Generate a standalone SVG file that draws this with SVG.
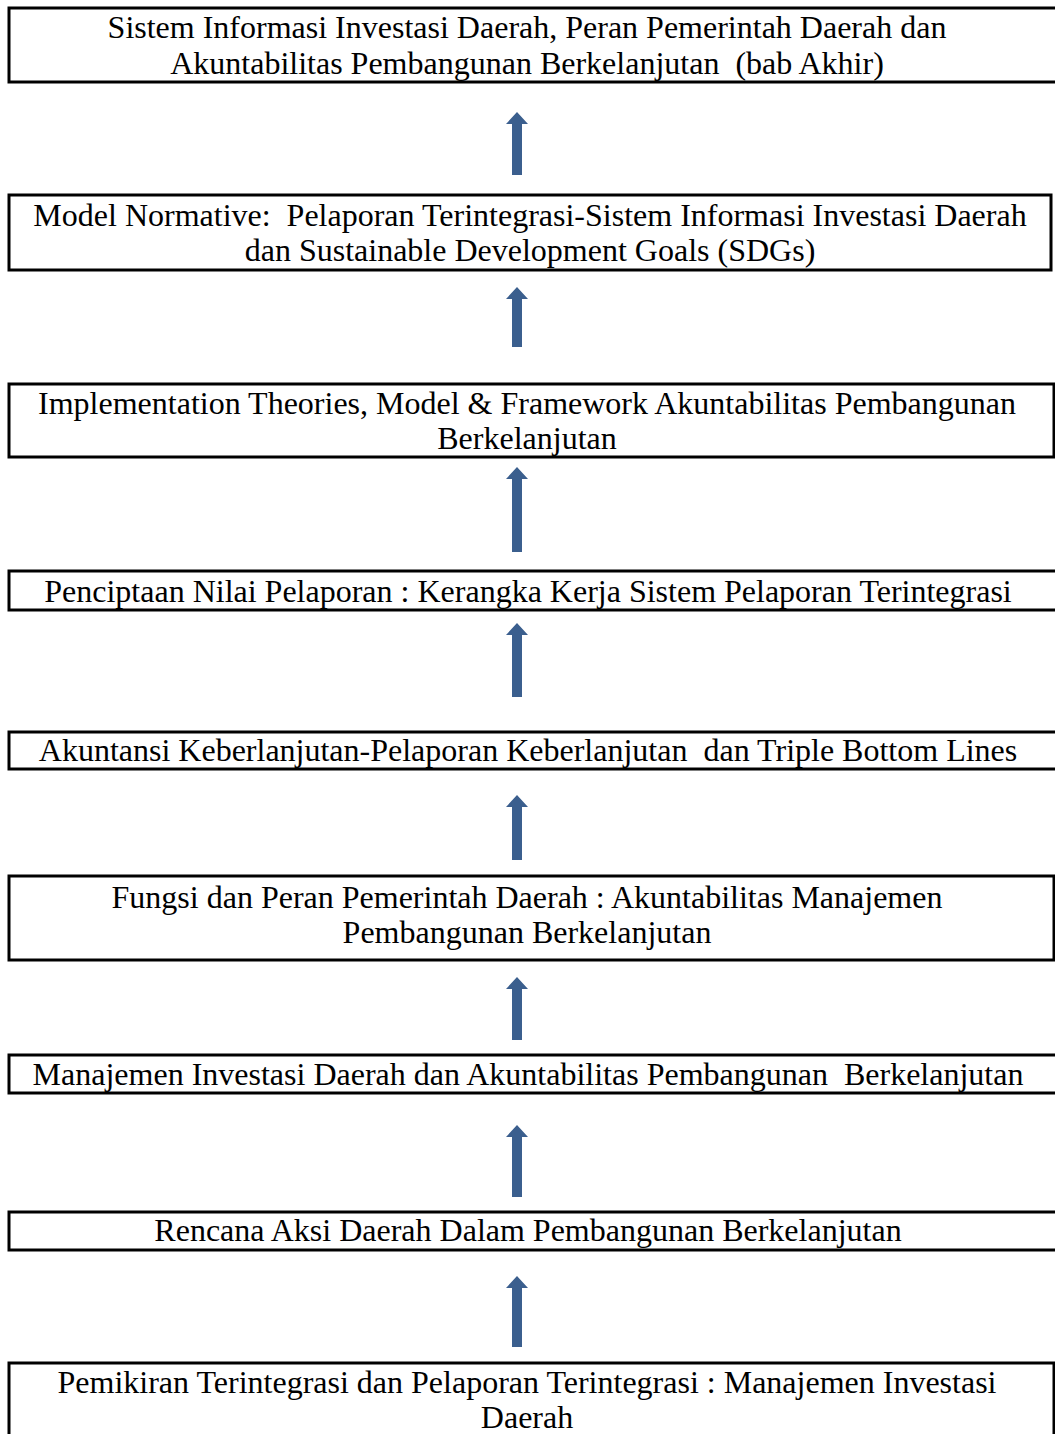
<svg xmlns="http://www.w3.org/2000/svg" width="1055" height="1434" viewBox="0 0 1055 1434">
<defs>
<style>
.box{fill:#fff;stroke:#000;stroke-width:3}
.t{font-family:"Liberation Serif","Times New Roman",serif;font-size:32px;fill:#000;text-anchor:middle;white-space:pre}
.arr{fill:#3b5f8e}
</style>
</defs>
<rect width="1055" height="1434" fill="#fff"/>
<g id="connectors">
<path class="arr" d="M512,175 V124 H506 L517,112 L528,124 H522 V175 Z"/>
<path class="arr" d="M512,347 V299 H506 L517,287 L528,299 H522 V347 Z"/>
<path class="arr" d="M512,552 V479 H506 L517,467 L528,479 H522 V552 Z"/>
<path class="arr" d="M512,697 V635 H506 L517,623 L528,635 H522 V697 Z"/>
<path class="arr" d="M512,860 V807 H506 L517,795 L528,807 H522 V860 Z"/>
<path class="arr" d="M512,1040 V989 H506 L517,977 L528,989 H522 V1040 Z"/>
<path class="arr" d="M512,1197 V1137 H506 L517,1125 L528,1137 H522 V1197 Z"/>
<path class="arr" d="M512,1347 V1288 H506 L517,1276 L528,1288 H522 V1347 Z"/>
</g>
<g id="n1"><rect class="box" x="9" y="8" width="1048" height="74"/>
<text class="t" x="527" y="38" xml:space="preserve">Sistem Informasi Investasi Daerah, Peran Pemerintah Daerah dan</text>
<text class="t" x="527" y="74" xml:space="preserve">Akuntabilitas Pembangunan Berkelanjutan  (bab Akhir)</text></g>
<g id="n2"><rect class="box" x="9" y="195" width="1042" height="75"/>
<text class="t" x="530" y="226" xml:space="preserve">Model Normative:  Pelaporan Terintegrasi-Sistem Informasi Investasi Daerah</text>
<text class="t" x="530" y="261" xml:space="preserve">dan Sustainable Development Goals (SDGs)</text></g>
<g id="n3"><rect class="box" x="9" y="384" width="1045" height="73"/>
<text class="t" x="527" y="414" xml:space="preserve">Implementation Theories, Model &amp; Framework Akuntabilitas Pembangunan</text>
<text class="t" x="527" y="449" xml:space="preserve">Berkelanjutan</text></g>
<g id="n4"><rect class="box" x="9" y="571" width="1048" height="39"/>
<text class="t" x="528" y="602" xml:space="preserve">Penciptaan Nilai Pelaporan : Kerangka Kerja Sistem Pelaporan Terintegrasi</text></g>
<g id="n5"><rect class="box" x="9" y="732" width="1048" height="37"/>
<text class="t" x="528" y="761" xml:space="preserve">Akuntansi Keberlanjutan-Pelaporan Keberlanjutan  dan Triple Bottom Lines</text></g>
<g id="n6"><rect class="box" x="9" y="876" width="1045" height="84"/>
<text class="t" x="527" y="908" xml:space="preserve">Fungsi dan Peran Pemerintah Daerah : Akuntabilitas Manajemen</text>
<text class="t" x="527" y="943" xml:space="preserve">Pembangunan Berkelanjutan</text></g>
<g id="n7"><rect class="box" x="9" y="1055" width="1048" height="38"/>
<text class="t" x="528" y="1085" xml:space="preserve">Manajemen Investasi Daerah dan Akuntabilitas Pembangunan  Berkelanjutan</text></g>
<g id="n8"><rect class="box" x="9" y="1212" width="1048" height="38"/>
<text class="t" x="528" y="1241" xml:space="preserve">Rencana Aksi Daerah Dalam Pembangunan Berkelanjutan</text></g>
<g id="n9"><rect class="box" x="9" y="1363" width="1045" height="80"/>
<text class="t" x="527" y="1393" xml:space="preserve">Pemikiran Terintegrasi dan Pelaporan Terintegrasi : Manajemen Investasi</text>
<text class="t" x="527" y="1428" xml:space="preserve">Daerah</text></g>
</svg>
